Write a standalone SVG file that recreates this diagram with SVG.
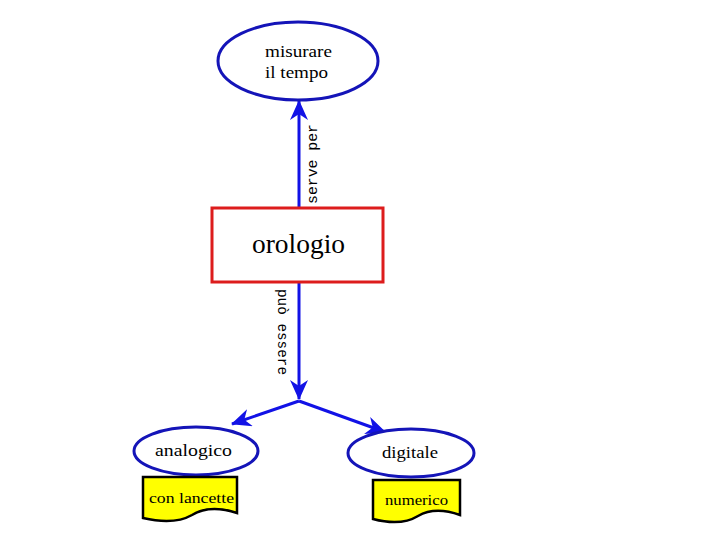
<svg xmlns="http://www.w3.org/2000/svg" width="720" height="540" viewBox="0 0 720 540">
<style>
.ell{fill:#fff;stroke:#1414b8;stroke-width:3}
.t{font-family:"Liberation Serif","Times New Roman",serif;fill:#000}
.m{font-family:"Liberation Mono","Courier New",monospace;fill:#000;font-size:15px}
.con{fill:none;stroke:#1212e6;stroke-width:3}
.doc{fill:#ffff00;stroke:#000;stroke-width:2.5}
</style>
<defs>
<marker id="ah" viewBox="0 0 20 18" refX="19" refY="9" markerWidth="20" markerHeight="18" markerUnits="userSpaceOnUse" orient="auto">
<path d="M0,0 L20,9 L0,18 L6,9 z" fill="#1212e6"/>
</marker>
</defs>
<rect width="720" height="540" fill="#fff"/>
<g id="connectors">
<line class="con" x1="299" y1="207" x2="299" y2="101" marker-end="url(#ah)"/>
<text class="m" transform="translate(317,204) rotate(-90)" textLength="80" lengthAdjust="spacingAndGlyphs">serve per</text>
<line class="con" x1="299" y1="282" x2="299" y2="399" marker-end="url(#ah)"/>
<text class="m" transform="translate(278,289) rotate(90)" textLength="86" lengthAdjust="spacingAndGlyphs">può essere</text>
<polyline class="con" points="299,401 232,424" marker-end="url(#ah)"/>
<polyline class="con" points="299,401 385,432" marker-end="url(#ah)"/>
</g>
<g id="misurare">
<ellipse class="ell" cx="298" cy="61" rx="80" ry="39"/>
<text class="t" x="265" y="57" font-size="17" textLength="67" lengthAdjust="spacingAndGlyphs">misurare</text>
<text class="t" x="265" y="78" font-size="17" textLength="63" lengthAdjust="spacingAndGlyphs">il tempo</text>
</g>
<g id="orologio">
<rect x="212" y="208" width="171" height="74" fill="#fff" stroke="#dd1c1c" stroke-width="3"/>
<text class="t" x="252" y="253" font-size="27" textLength="93" lengthAdjust="spacingAndGlyphs">orologio</text>
</g>
<g id="analogico">
<ellipse class="ell" cx="196" cy="451" rx="62" ry="24"/>
<text class="t" x="155" y="456" font-size="17" textLength="77" lengthAdjust="spacingAndGlyphs">analogico</text>
</g>
<g id="lancette">
<path class="doc" d="M143,477 H237 V513 C222,508 205,507 192,515 C178,523 160,522 143,518 Z"/>
<text class="t" x="149" y="503" font-size="14" textLength="85" lengthAdjust="spacingAndGlyphs">con lancette</text>
</g>
<g id="digitale">
<ellipse class="ell" cx="411" cy="453" rx="63" ry="24"/>
<text class="t" x="382" y="458" font-size="17" textLength="56" lengthAdjust="spacingAndGlyphs">digitale</text>
</g>
<g id="numerico">
<path class="doc" d="M373,480 H460 V515 C446,510 430,509 418,516 C405,524 388,523 373,519 Z"/>
<text class="t" x="385" y="505" font-size="14" textLength="63" lengthAdjust="spacingAndGlyphs">numerico</text>
</g>
</svg>
